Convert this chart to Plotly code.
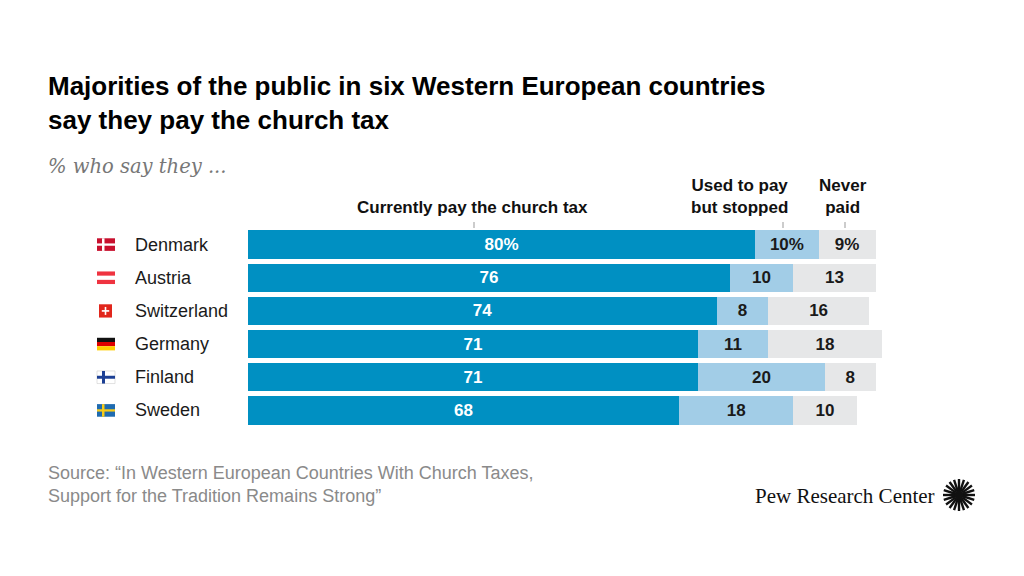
import math
import plotly.graph_objects as go

countries = ["Denmark", "Austria", "Switzerland", "Germany", "Finland", "Sweden"]
currently_pay = [80, 76, 74, 71, 71, 68]
used_to_pay = [10, 10, 8, 11, 20, 18]
never_paid = [9, 13, 16, 18, 8, 10]

series = [
    ("Currently pay the church tax", currently_pay, "#0090c2", "white"),
    ("Used to pay but stopped", used_to_pay, "#a2cde7", "#1a1a1a"),
    ("Never paid", never_paid, "#e6e7e8", "#1a1a1a"),
]

W, H = 1024, 576
# plot area in screenshot pixels; the page has an 8px body margin
OFF = 8
L, R, T, B = 248, 882, 228, 427

SANS = "Liberation Sans, Arial, sans-serif"
SERIF = "DejaVu Serif, Liberation Serif, serif"
PEW = "Liberation Serif, serif"


def px(x):
    return (x - L) / (R - L)


def py(y):
    return (B - y) / (B - T)


fig = go.Figure()
for name, vals, color, tcolor in series:
    labels = [f"{v}%" if i == 0 else str(v) for i, v in enumerate(vals)]
    fig.add_trace(go.Bar(
        y=countries, x=vals, name=name, orientation="h",
        marker=dict(color=color, line=dict(width=0)),
        text=labels, textposition="inside", insidetextanchor="middle",
        textfont=dict(family=SANS, size=17, color=tcolor, weight="bold"),
        constraintext="none", hoverinfo="skip",
    ))

shapes = []
annotations = []

# country names
for i, c in enumerate(countries):
    annotations.append(dict(x=px(133), xref="paper", y=c, yref="y", text=c,
                            xanchor="left", showarrow=False,
                            font=dict(family=SANS, size=18, color="#1a1a1a")))


# flags
def rect(x0, x1, y0, y1, color, i):
    shapes.append(dict(type="rect", xref="paper", yref="y",
                       x0=px(x0), x1=px(x1), y0=i + y0, y1=i + y1,
                       fillcolor=color, line=dict(width=0), layer="above"))


fx0, fx1 = 97, 115
hh = 0.19
# Denmark
rect(fx0, fx1, -hh, hh, "#c8102e", 0)
rect(102, 104.5, -hh, hh, "white", 0)
rect(fx0, fx1, -0.035, 0.035, "white", 0)
# Austria
rect(fx0, fx1, -hh, hh, "#ef3340", 1)
rect(fx0, fx1, -hh / 3, hh / 3, "white", 1)
# Switzerland
rect(99, 112, -0.2, 0.2, "#e1261c", 2)
rect(104.7, 106.3, -0.12, 0.12, "white", 2)
rect(101.8, 109.2, -0.025, 0.025, "white", 2)
# Germany
rect(fx0, fx1, -hh, -hh / 3, "#111111", 3)
rect(fx0, fx1, -hh / 3, hh / 3, "#dd0000", 3)
rect(fx0, fx1, hh / 3, hh, "#ffce00", 3)
# Finland
shapes.append(dict(type="rect", xref="paper", yref="y", x0=px(fx0), x1=px(fx1),
                   y0=4 - hh, y1=4 + hh, fillcolor="white",
                   line=dict(width=0.6, color="#cccccc"), layer="above"))
rect(102, 105, -hh, hh, "#1c3f94", 4)
rect(fx0, fx1, -0.045, 0.045, "#1c3f94", 4)
# Sweden
rect(fx0, fx1, -hh, hh, "#1f6bb0", 5)
rect(102, 104.5, -hh, hh, "#f7cc1a", 5)
rect(fx0, fx1, -0.035, 0.035, "#f7cc1a", 5)

# column headers
headers = [
    ("Currently pay the church tax", 472, 207),
    ("Used to pay<br>but stopped", 739, 196),
    ("Never<br>paid", 843, 196),
]
for txt, x, y in headers:
    annotations.append(dict(x=px(x), y=py(y), xref="paper", yref="paper", text=txt,
                            showarrow=False, xanchor="center", yanchor="middle",
                            font=dict(family=SANS, size=17, color="#111111", weight="bold")))
for x in (474, 783, 845):
    shapes.append(dict(type="line", xref="paper", yref="paper",
                       x0=px(x), x1=px(x), y0=py(222), y1=py(228),
                       line=dict(color="#999999", width=1)))

# title, subtitle, source
annotations.append(dict(x=px(46), y=py(103), xref="paper", yref="paper",
                        text="Majorities of the public in six Western European countries<br>say they pay the church tax",
                        showarrow=False, xanchor="left", yanchor="middle", align="left",
                        font=dict(family=SANS, size=26, color="#000000", weight="bold")))
annotations.append(dict(x=px(46), y=py(167), xref="paper", yref="paper",
                        text="<i>% who say they ...</i>", showarrow=False,
                        xanchor="left", yanchor="middle",
                        font=dict(family=SERIF, size=19.5, color="#777777")))
annotations.append(dict(x=px(46), y=py(484), xref="paper", yref="paper",
                        text="Source: \u201cIn Western European Countries With Church Taxes,<br>"
                             "Support for the Tradition Remains Strong\u201d",
                        showarrow=False, xanchor="left", yanchor="middle", align="left",
                        font=dict(family=SANS, size=18, color="#8a8a8a")))
annotations.append(dict(x=px(937), y=py(496), xref="paper", yref="paper",
                        text="Pew Research Center", showarrow=False,
                        xanchor="right", yanchor="middle",
                        font=dict(family=PEW, size=21, color="#111111")))

# logo rays
cx, cy = 959, 495
for k in range(20):
    a = 2 * math.pi * k / 20
    shapes.append(dict(type="line", xref="paper", yref="paper",
                       x0=px(cx + 4 * math.cos(a)), y0=py(cy + 4 * math.sin(a)),
                       x1=px(cx + 16 * math.cos(a)), y1=py(cy + 16 * math.sin(a)),
                       line=dict(color="#111111", width=2.4)))
shapes.append(dict(type="circle", xref="paper", yref="paper",
                   x0=px(cx - 4.5), x1=px(cx + 4.5), y0=py(cy + 4.5), y1=py(cy - 4.5),
                   fillcolor="#111111", line=dict(width=0)))

fig.update_layout(
    width=W, height=H,
    barmode="stack", bargap=0.15,
    showlegend=False,
    paper_bgcolor="white", plot_bgcolor="white",
    margin=dict(l=L - OFF, r=W - (R - OFF), t=T - OFF, b=H - (B - OFF)),
    xaxis=dict(range=[0, 100], visible=False, fixedrange=True),
    yaxis=dict(autorange="reversed", visible=False, fixedrange=True),
    shapes=shapes, annotations=annotations,
)

fig.write_html("out.html", config={"displayModeBar": False})
